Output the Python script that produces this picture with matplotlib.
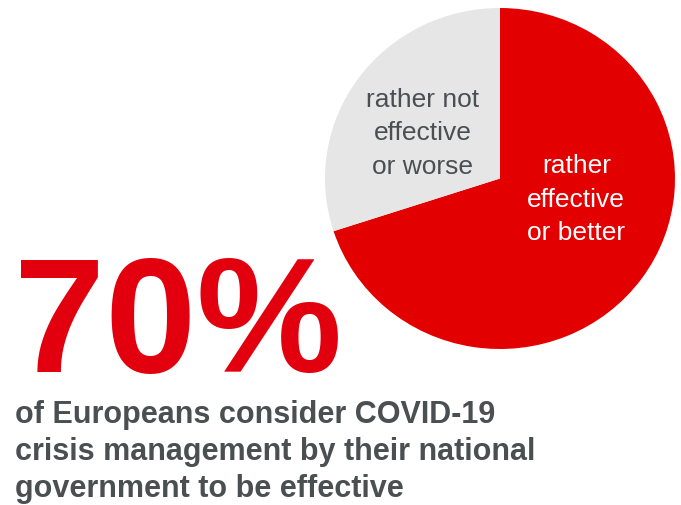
import matplotlib.pyplot as plt

# Share of respondents rating national COVID-19 crisis management
shares = [70, 30]
slice_labels = ["rather\neffective\nor better", "rather not\neffective\nor worse"]
slice_colors = ["#e30000", "#e6e6e6"]
label_colors = ["white", "#4a4f52"]
headline = f"{shares[0]}%"
caption_lines = ["of Europeans consider COVID-19",
                 "crisis management by their national",
                 "government to be effective"]

plt.rcParams['font.family'] = ['Liberation Sans', 'DejaVu Sans']

W, H = 681, 506
fig = plt.figure(figsize=(W / 100, H / 100), dpi=100)

# Pie in the upper right
ax = fig.add_axes([325 / W, 1 - 350 / H, 350 / W, 341 / H])
ax.pie(shares, colors=slice_colors, startangle=90, counterclock=False,
       radius=1.0, wedgeprops=dict(linewidth=0))
ax.set_aspect('auto')
ax.set_xlim(-1, 1)
ax.set_ylim(-1, 1)

# Slice labels placed inside each wedge
ax.text(0.436, -0.12, slice_labels[0], color=label_colors[0], fontsize=19,
        ha='center', va='center', linespacing=1.5)
ax.text(-0.44, 0.27, slice_labels[1], color=label_colors[1], fontsize=19,
        ha='center', va='center', linespacing=1.5)

# Big headline number
fig.text(14 / W, 1 - 372 / H, headline, color="#e2000f", fontsize=118,
         fontweight='bold', ha='left', va='baseline')

# Caption under the number, one line per baseline
for i, line in enumerate(caption_lines):
    fig.text(15 / W, 1 - (423 + 37 * i) / H, line, color="#4a4f52",
             fontsize=22, fontweight='bold', ha='left', va='baseline')

fig.savefig("out.png", dpi=100)
